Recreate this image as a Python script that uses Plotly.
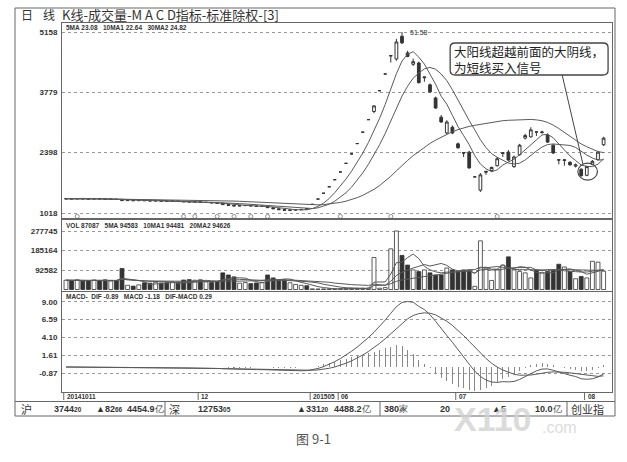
import plotly.graph_objects as go
import pandas as pd

W, H = 627, 462

# ---------------- data ----------------
date_tick_idx = [0, 24, 44, 49, 70, 93]
date_tick_text = ["20141011", "12", "201505", "06", "07", "08"]

opens = [13.40, 13.48, 13.38, 13.52, 13.40, 13.36, 13.46, 13.40, 13.30, 13.36,
         13.30, 13.02, 13.10, 13.00, 13.08, 12.98, 12.94, 12.98, 12.90, 12.86,
         12.92, 12.84, 12.75, 12.70, 12.75, 12.60, 12.60, 12.50, 12.42, 12.10,
         11.95, 11.78, 11.86, 11.92, 11.80, 11.70, 11.76, 11.40, 11.15, 10.95,
         10.78, 10.86, 10.92, 11.20, 12.16, 13.37, 14.71, 16.18, 17.80, 19.58,
         21.54, 23.69, 26.06, 28.67, 31.54, 33.40, 38.16, 41.98, 46.10, 45.40,
         50.60, 46.80, 44.20, 44.50, 41.10, 39.50, 36.50, 32.10, 28.50, 29.80,
         26.00, 23.95, 24.10, 18.45, 15.40, 19.50, 19.90, 21.00, 23.80, 24.10,
         20.80, 23.50, 27.30, 27.60, 28.75, 28.60, 28.00, 25.70, 22.35, 22.20,
         21.80, 20.90, 20.20, 18.80, 21.30, 22.40, 25.80]
highs = [13.55, 13.52, 13.58, 13.56, 13.50, 13.52, 13.50, 13.44, 13.42, 13.40,
         13.38, 13.15, 13.12, 13.12, 13.10, 13.06, 13.04, 13.00, 12.95, 12.98,
         12.96, 12.90, 12.82, 12.80, 12.78, 12.68, 12.64, 12.58, 12.46, 12.15,
         12.00, 11.92, 11.96, 11.94, 11.84, 11.82, 11.78, 11.45, 11.20, 11.00,
         10.92, 10.98, 11.05, 11.30, 12.16, 13.37, 14.71, 16.18, 17.80, 19.58,
         21.54, 23.69, 26.06, 28.67, 31.54, 34.69, 38.16, 41.98, 46.18, 50.00,
         51.58, 47.30, 45.50, 44.80, 41.30, 39.80, 36.80, 32.60, 31.40, 30.20,
         26.30, 24.00, 24.40, 18.45, 19.30, 19.70, 20.80, 23.00, 24.00, 24.60,
         23.30, 26.00, 28.30, 29.80, 28.80, 29.00, 28.40, 26.00, 22.40, 22.40,
         22.00, 21.50, 20.40, 21.00, 22.30, 24.40, 27.60]
lows = [13.35, 13.33, 13.36, 13.38, 13.32, 13.34, 13.35, 13.25, 13.26, 13.22,
        12.95, 12.98, 12.96, 12.98, 12.95, 12.90, 12.92, 12.86, 12.82, 12.84,
        12.80, 12.70, 12.66, 12.68, 12.56, 12.50, 12.46, 12.38, 12.05, 11.90,
        11.75, 11.74, 11.82, 11.76, 11.66, 11.68, 11.36, 11.10, 10.90, 10.70,
        10.65, 10.80, 10.88, 10.95, 12.16, 13.37, 14.71, 16.18, 17.80, 19.58,
        21.54, 23.69, 26.06, 28.67, 31.54, 33.00, 38.16, 41.98, 44.60, 45.00,
        48.80, 45.80, 43.80, 39.80, 40.20, 37.60, 34.00, 30.80, 28.20, 28.20,
        24.90, 23.00, 20.30, 18.45, 15.00, 18.90, 19.60, 20.80, 23.00, 22.00,
        20.50, 23.30, 27.00, 27.40, 27.80, 28.30, 26.20, 23.70, 21.30, 21.00,
        21.00, 20.60, 18.50, 18.60, 21.10, 22.20, 25.50]
closes = [13.45, 13.38, 13.50, 13.42, 13.36, 13.46, 13.40, 13.30, 13.36, 13.28,
          13.02, 13.10, 13.00, 13.08, 13.00, 12.95, 12.99, 12.90, 12.86, 12.93,
          12.85, 12.76, 12.72, 12.76, 12.60, 12.62, 12.50, 12.42, 12.10, 11.95,
          11.80, 11.86, 11.92, 11.80, 11.70, 11.76, 11.40, 11.15, 10.95, 10.80,
          10.86, 10.92, 11.00, 11.05, 12.16, 13.37, 14.71, 16.18, 17.80, 19.58,
          21.54, 23.69, 26.06, 28.67, 31.54, 34.69, 38.16, 41.98, 46.18, 49.30,
          49.10, 46.00, 44.80, 40.00, 41.30, 37.90, 34.20, 31.00, 31.00, 28.50,
          25.10, 23.90, 20.50, 18.45, 18.90, 19.70, 20.60, 22.60, 23.95, 22.30,
          23.00, 25.70, 27.90, 29.20, 28.70, 28.70, 26.40, 23.90, 22.30, 22.35,
          21.20, 21.20, 18.70, 20.80, 22.00, 24.10, 27.30]
volumes = [44000, 42000, 46000, 40000, 43000, 45000, 41000, 46000, 40000, 42000,
           100000, 20000, 16000, 22000, 32000, 30000, 34000, 31000, 33000, 36000,
           35000, 45000, 47000, 44000, 46000, 36000, 34000, 38000, 79000, 69000,
           60000, 30000, 33000, 28000, 31000, 34000, 69000, 55000, 46000, 46000,
           32000, 24000, 20000, 18000, 3000, 2500, 2800, 3200, 3500, 4000,
           4200, 5000, 5500, 6000, 7000, 152000, 6000, 9000, 193000, 277745,
           162000, 116000, 93000, 85000, 93000, 79000, 69000, 69000, 102000, 93000,
           86000, 93000, 90000, 15000, 231000, 102000, 43000, 93000, 116000, 155000,
           93000, 86000, 79000, 55000, 93000, 79000, 86000, 90000, 120000, 107000,
           86000, 51000, 62000, 55000, 134000, 130000, 87087]
info_marks = [2, 21, 23, 27, 30, 33, 36, 49, 58, 77]

price_tick_vals = [10.18, 23.98, 37.79, 51.58]
price_tick_text = ["1018", "2398", "3779", "5158"]
vol_tick_vals = [92582, 185164, 277745]
vol_tick_text = ["92582", "185164", "277745"]
macd_tick_vals = [-0.87, 1.61, 4.10, 6.59, 9.00]
macd_tick_text = ["-0.87", "1.61", "4.10", "6.59", "9.00"]

main_header = "5MA 23.08   10MA1 22.64   30MA2 24.82"
vol_header = "VOL 87087   5MA 94583   10MA1 94481   20MA2 94626"
macd_header = "MACD-  DIF -0.89   MACD -1.18   DIF-MACD 0.29"

# ---------------- derived ----------------
N = len(closes)
x = list(range(N))
c = pd.Series(closes)
ma5 = c.rolling(5, min_periods=1).mean()
ma10 = c.rolling(10, min_periods=1).mean()
ma30 = c.rolling(30, min_periods=1).mean()
v = pd.Series(volumes)
vma5 = v.rolling(5, min_periods=1).mean()
vma10 = v.rolling(10, min_periods=1).mean()
vma20 = v.rolling(20, min_periods=1).mean()
dif = c.ewm(span=12, adjust=False).mean() - c.ewm(span=26, adjust=False).mean()
dea = dif.ewm(span=9, adjust=False).mean()
hist = dif - dea
up = [cl >= op for op, cl in zip(opens, closes)]

DARK = "#333333"
LINE = "#5a5a5a"
FRAME = "#666666"
NUMFONT = "Liberation Sans Narrow, Liberation Sans, Arial"
CJK = "Noto Sans CJK SC"

fig = go.Figure()
fig.add_trace(go.Candlestick(
    x=x, open=opens, high=highs, low=lows, close=closes,
    increasing=dict(line=dict(color=DARK, width=1), fillcolor="white"),
    decreasing=dict(line=dict(color=DARK, width=1), fillcolor=DARK),
    whiskerwidth=0, hoverinfo="skip", showlegend=False, xaxis="x", yaxis="y"))
for s in (ma5, ma10, ma30):
    fig.add_trace(go.Scatter(x=x, y=s, mode="lines", line=dict(color=LINE, width=1),
                             hoverinfo="skip", showlegend=False, xaxis="x", yaxis="y"))
fig.add_trace(go.Scatter(x=info_marks, y=[9.40] * len(info_marks), mode="markers",
                         marker=dict(symbol="circle-open", size=4, color="#777", line=dict(width=0.8)),
                         hoverinfo="skip", showlegend=False, xaxis="x", yaxis="y"))

fig.add_trace(go.Bar(x=x, y=volumes, width=0.7,
                     marker=dict(color=["white" if u else DARK for u in up],
                                 line=dict(color=DARK, width=0.8)),
                     hoverinfo="skip", showlegend=False, xaxis="x2", yaxis="y2"))
for s in (vma5, vma10, vma20):
    fig.add_trace(go.Scatter(x=x, y=s, mode="lines", line=dict(color=LINE, width=1),
                             hoverinfo="skip", showlegend=False, xaxis="x2", yaxis="y2"))

fig.add_trace(go.Bar(x=x, y=hist, width=0.18, marker=dict(color="#888", line=dict(width=0)),
                     hoverinfo="skip", showlegend=False, xaxis="x3", yaxis="y3"))
for s in (dif, dea):
    fig.add_trace(go.Scatter(x=x, y=s, mode="lines", line=dict(color=LINE, width=1),
                             hoverinfo="skip", showlegend=False, xaxis="x3", yaxis="y3"))

# ---------------- layout ----------------
xdom = [62 / W, 612 / W]
def ydom(top, bottom):
    return [1 - bottom / H, 1 - top / H]

xcommon = dict(domain=xdom, showticklabels=False, showgrid=False, zeroline=False,
               showline=True, mirror=True, linecolor=FRAME, linewidth=1, ticks="")
ycommon = dict(showgrid=True, gridcolor="#999", griddash="dot", gridwidth=1, zeroline=False,
               showline=True, mirror=True, linecolor=FRAME, linewidth=1, ticks="",
               tickfont=dict(family=NUMFONT, size=8, color=DARK, weight=700), ticklabelstandoff=2)

fig.update_layout(
    width=W, height=H, margin=dict(l=0, r=0, t=0, b=0),
    paper_bgcolor="white", plot_bgcolor="white", bargap=0, barmode="overlay",
    xaxis=dict(**xcommon, range=[-0.714, 97.5], anchor="y", rangeslider=dict(visible=False)),
    xaxis2=dict(**xcommon, matches="x", anchor="y2"),
    xaxis3=dict(**xcommon, matches="x", anchor="y3"),
    yaxis=dict(**ycommon, domain=ydom(23, 218), range=[9.04, 53.64],
               tickvals=price_tick_vals, ticktext=price_tick_text, anchor="x"),
    yaxis2=dict(**ycommon, domain=ydom(220, 291), range=[-7122, 329972],
                tickvals=vol_tick_vals, ticktext=vol_tick_text, anchor="x2"),
    yaxis3=dict(**ycommon, domain=ydom(292, 391.5), range=[-3.38, 10.34],
                tickvals=macd_tick_vals, ticktext=macd_tick_text, anchor="x3"),
)

shapes = []
def pline(x0, y0, x1, y1, color=FRAME, width=1):
    shapes.append(dict(type="line", xref="paper", yref="paper", x0=x0 / W, x1=x1 / W,
                       y0=1 - y0 / H, y1=1 - y1 / H, line=dict(color=color, width=width)))

# outer frame and status bar
shapes.append(dict(type="rect", xref="paper", yref="paper", x0=15 / W, x1=615 / W,
                   y0=1 - 416 / H, y1=1 - 8 / H, line=dict(color=FRAME, width=1)))
pline(15, 401.5, 615, 401.5)
for xs in (165, 380, 567):
    pline(xs, 401.5, xs, 416)
# date ticks
for i in date_tick_idx:
    shapes.append(dict(type="line", xref="x3", yref="paper", x0=i - 0.4, x1=i - 0.4,
                       y0=1 - 400 / H, y1=1 - 392 / H, line=dict(color=FRAME, width=1)))

# callout: rounded box, pointer, circle (data coordinates of main panel)
bx0, bx1, by0, by1 = 68.6, 96.8, 41.75, 49.06
rx, ry = 0.9, 1.1
path = (f"M {bx0+rx},{by1} L {bx1-rx},{by1} Q {bx1},{by1} {bx1},{by1-ry} "
        f"L {bx1},{by0+ry} Q {bx1},{by0} {bx1-rx},{by0} L {bx0+rx},{by0} "
        f"Q {bx0},{by0} {bx0},{by0+ry} L {bx0},{by1-ry} Q {bx0},{by1} {bx0+rx},{by1} Z")
shapes.append(dict(type="path", xref="x", yref="y", path=path, line=dict(color="#444", width=1.3),
                   fillcolor="white"))
shapes.append(dict(type="line", xref="x", yref="y", x0=88.6, y0=41.75, x1=92.3, y1=21.4,
                   line=dict(color="#444", width=1)))
shapes.append(dict(type="circle", xref="x", yref="y", x0=91.4, x1=94.9, y0=17.7, y1=21.6,
                   line=dict(color="#444", width=1.2)))
fig.update_layout(shapes=shapes)

anns = []
def ptext(text, xp, yp, size, color=DARK, family=NUMFONT, weight=700, anchor="left"):
    anns.append(dict(text=text, x=xp / W, y=1 - yp / H, xref="paper", yref="paper",
                     xanchor=anchor, yanchor="middle", showarrow=False,
                     font=dict(family=family, size=size, color=color, weight=weight)))

# header
ptext("日", 19, 14.5, 12, family=CJK, weight=400)
ptext("线", 41, 14.5, 12, family=CJK, weight=400)
ptext("K线-成交量-M A C D指标-标准除权-[3]", 60, 14.5, 13, family=CJK, weight=400)
ptext(main_header, 64, 27.5, 6.5)
ptext(vol_header, 64, 225, 6.5)
ptext(macd_header, 64, 296.5, 6.5)

# peak label
imax = max(range(N), key=lambda k: highs[k])
anns.append(dict(text=f"{highs[imax]:.2f}", x=imax + 1.0, y=highs[imax], xref="x", yref="y",
                 xanchor="left", yanchor="middle", showarrow=False,
                 font=dict(family=NUMFONT, size=7, color=DARK)))

# date labels
for i, t in zip(date_tick_idx, date_tick_text):
    anns.append(dict(text=t, x=i - 0.2, y=1 - 396.5 / H, xref="x3", yref="paper",
                     xanchor="left", yanchor="middle", showarrow=False,
                     font=dict(family=NUMFONT, size=6.5, color=DARK, weight=700)))

# callout text (one block, two lines)
anns.append(dict(text="大阳线超越前面的大阴线，<br>为短线买入信号", x=68.9, y=45.2, xref="x", yref="y",
                 xanchor="left", yanchor="middle", align="left", showarrow=False,
                 font=dict(family=CJK, size=12.5, color="#222")))

# status bar
sm = "<span style='font-size:6.5px'>{}</span>"
ptext("沪", 19, 408.5, 11, family=CJK, weight=400)
ptext("3744" + sm.format("20"), 52, 408.5, 9)
ptext("▲82" + sm.format("66"), 94, 408.5, 9)
ptext("4454.9<span style='font-weight:400'>亿</span>", 125, 408.5, 9)
ptext("深", 167, 408.5, 11, family=CJK, weight=400)
ptext("12753" + sm.format("05"), 196, 408.5, 9)
ptext("▲331" + sm.format("20"), 295, 408.5, 9)
ptext("4488.2<span style='font-weight:400'>亿</span>", 332, 408.5, 9)
ptext("380<span style='font-weight:400'>家</span>", 382, 408.5, 9)
ptext("20", 438, 408.5, 9)
ptext("▲5", 490, 408.5, 9)
ptext("10.0<span style='font-weight:400'>亿</span>", 533, 408.5, 9)
ptext("创业指", 569, 408.5, 11, family=CJK, weight=400)

# watermark
ptext("X110", 452, 419, 34, color="rgba(210,210,210,0.8)", family="Liberation Sans", weight=700)
ptext(".com", 540, 427, 16, color="rgba(210,210,210,0.8)", family="Liberation Sans", weight=400)

# caption
ptext("图 9-1", 313, 438, 13, color="#555", family=CJK, weight=400, anchor="center")

fig.update_layout(annotations=anns)
fig.write_html("out.html", config={"displayModeBar": False, "staticPlot": True},
               post_script="document.body.style.margin='0';document.body.style.padding='0';")
